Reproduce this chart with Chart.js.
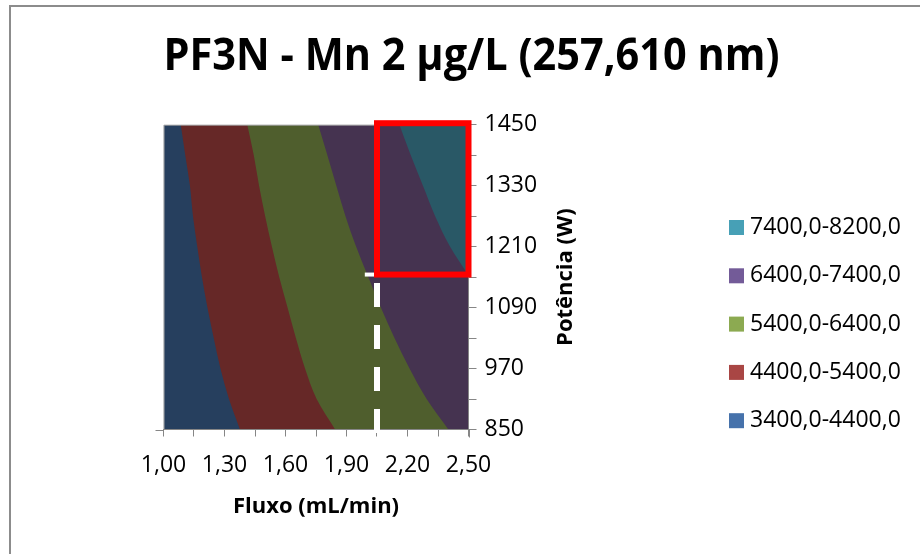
<!DOCTYPE html>
<html>
<head>
<meta charset="utf-8">
<script src="https://cdn.jsdelivr.net/npm/chart.js@4.4.1/dist/chart.umd.min.js"></script>
<style>
  html, body { margin: 0; padding: 0; background: #fff; overflow: hidden; }
  #frame { position: absolute; left: 9px; top: 5px; width: 1000px; height: 700px;
           border-left: 2px solid #8c8c8c; border-top: 2px solid #8c8c8c; }
  #wrap { position: absolute; left: 0; top: 0; width: 920px; height: 554px; }
</style>
</head>
<body>
<div id="frame"></div>
<div id="wrap"><canvas id="c"></canvas></div>
<script>
// Power levels (W) of the response-surface grid, bottom to top
const powerLevels = [850, 910, 970, 1030, 1090, 1150, 1210, 1270, 1330, 1390, 1450];

// Flow (mL/min) at which each contour level is reached, for every power level
const flowAt4400 = [1.376, 1.322, 1.280, 1.247, 1.216, 1.189, 1.166, 1.145, 1.130, 1.107, 1.085];
const flowAt5400 = [1.844, 1.753, 1.696, 1.651, 1.610, 1.569, 1.533, 1.500, 1.470, 1.444, 1.412];
const flowAt6400 = [2.401, 2.294, 2.210, 2.136, 2.069, 2.007, 1.947, 1.895, 1.850, 1.806, 1.761];
const flowAt7400 = [null, null, null, null, null, 2.505, 2.409, 2.336, 2.276, 2.216, 2.160];
const flowAtLowest = [1.00, 1.00, 1.00, 1.00, 1.00, 1.00, 1.00, 1.00, 1.00, 1.00, 1.00];

// Contour bands, highest first (legend order)
const bandLabels = ['7400,0-8200,0', '6400,0-7400,0', '5400,0-6400,0', '4400,0-5400,0', '3400,0-4400,0'];
const bandEdges  = [flowAt7400, flowAt6400, flowAt5400, flowAt4400, flowAtLowest];
const bandFill   = ['#295866', '#453350', '#4f5e2d', '#662827', '#263f5e'];
const bandKey    = ['#47a0b6', '#735b98', '#8caa51', '#a94644', '#4672ab'];

// Axis ranges and labelled ticks
const flowRange = [1.00, 2.50];
const powerRange = [850, 1450];
const flowTickLabels = ['1,00', '1,30', '1,60', '1,90', '2,20', '2,50'];
const powerTickLabels = ['850', '970', '1090', '1210', '1330', '1450'];

// Highlighted operating region and the flow marker line
const regionFlow = [2.05, 2.50];
const regionPower = [1155, 1450];
const markerStubFlow = 1.99;

const FONT = "'Open Sans', 'Liberation Sans', sans-serif";

const datasets = bandLabels.map((label, i) => ({
  label,
  data: powerLevels.map((p, k) => ({ x: bandEdges[i][k], y: p })),
  backgroundColor: bandFill[i],
  borderColor: 'transparent',
  borderWidth: 0,
  pointRadius: 0,
  fill: { value: flowRange[1] },
  cubicInterpolationMode: 'monotone'
}));

const plotFrame = {
  id: 'plotFrame',
  afterDatasetsDraw(chart) {
    const { ctx, chartArea: a } = chart;
    ctx.save();
    ctx.strokeStyle = '#a6a6a6';
    ctx.lineWidth = 1;
    ctx.beginPath();
    ctx.moveTo(a.left + 0.5, a.bottom);
    ctx.lineTo(a.left + 0.5, a.top + 0.5);
    ctx.lineTo(a.right, a.top + 0.5);
    ctx.stroke();
    ctx.strokeStyle = '#868686';
    ctx.beginPath();
    ctx.moveTo(a.left - 8, Math.round(a.bottom) + 0.5);
    ctx.lineTo(a.left, Math.round(a.bottom) + 0.5);
    ctx.moveTo(Math.round(a.right) + 0.5, a.bottom);
    ctx.lineTo(Math.round(a.right) + 0.5, a.bottom + 8);
    ctx.stroke();
    ctx.restore();
  }
};

const regionMarker = {
  id: 'regionMarker',
  afterDraw(chart) {
    const { ctx } = chart;
    const xs = chart.scales.x, ys = chart.scales.y;
    const xL = xs.getPixelForValue(regionFlow[0]);
    const xR = xs.getPixelForValue(regionFlow[1]);
    const yB = ys.getPixelForValue(regionPower[0]);
    const yT = ys.getPixelForValue(regionPower[1]) - 1.5;
    const yAxis = ys.getPixelForValue(powerRange[0]);
    ctx.save();
    // dashed flow marker
    ctx.strokeStyle = '#ffffff';
    ctx.lineWidth = 6;
    ctx.setLineDash([24, 18]);
    ctx.beginPath();
    ctx.moveTo(xL, yAxis + 3.5);
    ctx.lineTo(xL, yB);
    ctx.stroke();
    ctx.setLineDash([]);
    ctx.lineWidth = 4;
    ctx.beginPath();
    ctx.moveTo(xs.getPixelForValue(markerStubFlow), yB);
    ctx.lineTo(xL, yB);
    ctx.stroke();
    // highlighted region
    ctx.strokeStyle = '#ff0000';
    ctx.lineWidth = 6;
    ctx.strokeRect(xL, yT, xR - xL, yB - yT);
    ctx.restore();
  }
};

const powerTitle = {
  id: 'powerTitle',
  afterDraw(chart) {
    const { ctx, chartArea: a } = chart;
    ctx.save();
    ctx.translate(a.right + 97, (a.top + a.bottom) / 2);
    ctx.rotate(-Math.PI / 2);
    ctx.font = 'bold 22px ' + FONT;
    ctx.fillStyle = '#000';
    ctx.textAlign = 'center';
    ctx.textBaseline = 'middle';
    ctx.fillText('Potência (W)', 0, 0);
    ctx.restore();
  }
};

const bandKeyList = {
  id: 'bandKeyList',
  afterDraw(chart) {
    const { ctx } = chart;
    ctx.save();
    ctx.font = '23px ' + FONT;
    ctx.textBaseline = 'middle';
    ctx.textAlign = 'left';
    bandLabels.forEach((label, i) => {
      const cy = 227.5 + i * 48.3;
      ctx.fillStyle = bandKey[i];
      ctx.fillRect(729, cy - 7.5, 15, 15);
      ctx.fillStyle = '#000';
      ctx.fillText(label, 750, cy);
    });
    ctx.restore();
  }
};

const axisInk = '#868686';

new Chart(document.getElementById('c'), {
  type: 'line',
  data: { datasets },
  options: {
    indexAxis: 'y',
    responsive: true,
    maintainAspectRatio: false,
    animation: false,
    events: [],
    layout: { padding: { left: 163.5, right: 140.5, top: 0, bottom: 24.5 } },
    plugins: {
      legend: { display: false },
      tooltip: { enabled: false },
      title: {
        display: true,
        text: 'PF3N - Mn 2 µg/L (257,610 nm)',
        color: '#000',
        font: { family: FONT, size: 44, weight: 'bold' },
        padding: { top: 31.5, bottom: 40.4 }
      }
    },
    scales: {
      x: {
        type: 'linear',
        position: 'bottom',
        min: flowRange[0],
        max: flowRange[1],
        afterFit(s) { s.height = 100; },
        grid: { display: true, drawOnChartArea: false, drawTicks: true, tickLength: 7, tickColor: axisInk, z: 1 },
        border: { display: true, color: axisInk, width: 1, z: 1 },
        ticks: {
          stepSize: 0.15, autoSkip: false, maxRotation: 0, minRotation: 0, padding: 15, z: 1,
          color: '#000', font: { family: FONT, size: 23 },
          callback(v) {
            const s = Number(v).toFixed(2).replace('.', ',');
            return flowTickLabels.includes(s) ? s : '';
          }
        },
        title: {
          display: true, text: 'Fluxo (mL/min)', color: '#000',
          font: { family: FONT, size: 22, weight: 'bold' },
          padding: { top: 0, bottom: 10 }
        }
      },
      y: {
        type: 'linear',
        position: 'right',
        min: powerRange[0],
        max: powerRange[1],
        afterFit(s) { s.width = 311; },
        grid: { display: true, drawOnChartArea: false, drawTicks: true, tickLength: 8, tickColor: axisInk, z: 1 },
        border: { display: true, color: axisInk, width: 1, z: 1 },
        ticks: {
          stepSize: 60, autoSkip: false, padding: 8, z: 1,
          color: '#000', font: { family: FONT, size: 23 },
          callback(v) {
            const s = String(Math.round(v));
            return powerTickLabels.includes(s) ? s : '';
          }
        }
      }
    }
  },
  plugins: [plotFrame, regionMarker, powerTitle, bandKeyList]
});
</script>
</body>
</html>
